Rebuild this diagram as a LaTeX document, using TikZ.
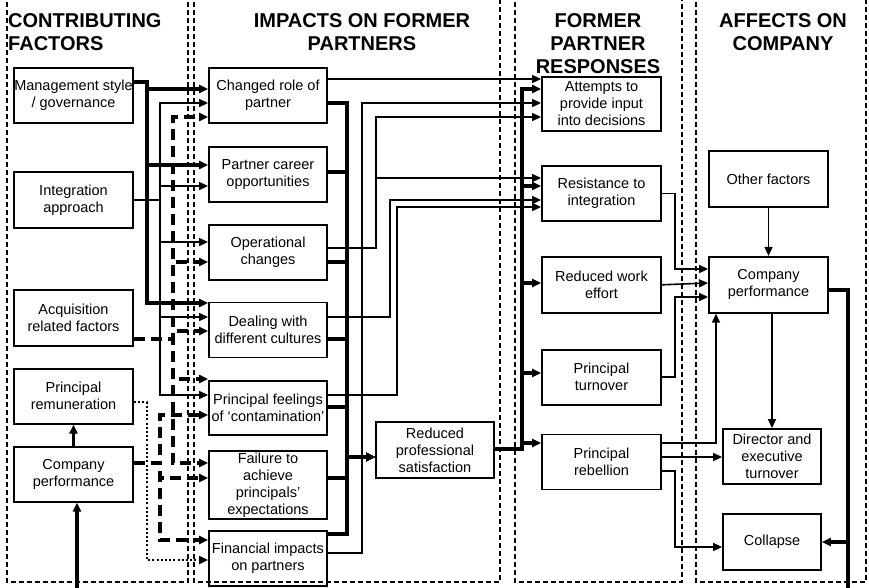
\documentclass[tikz,border=0pt]{standalone}
\usepackage{fontspec}
\setmainfont{Liberation Sans}
\usetikzlibrary{positioning, arrows.meta}

\begin{document}
\begin{tikzpicture}[
    x=1pt, y=-1pt,
    box/.style={rectangle, draw, line width=1.8pt, minimum width=119pt, minimum height=55pt, inner xsep=0pt, inner ysep=1pt, align=center, font=\fontsize{14.5}{17}\selectfont},
    impact/.style={box, minimum width=118pt},
    hdr/.style={align=center, inner sep=0pt, font=\bfseries\fontsize{20}{23}\selectfont},
    colframe/.style={draw, line width=1.4pt, dash pattern=on 5pt off 3pt},
    thn/.style={line width=1.6pt},
    thk/.style={line width=3.2pt},
    dsh/.style={line width=3.2pt, dash pattern=on 11pt off 6pt},
    dts/.style={line width=2pt, dash pattern=on 2pt off 2.2pt},
    arr/.style={-{Triangle[length=9pt, width=8pt]}}
]
\path[fill=white, use as bounding box] (0,0) rectangle (869,587);

% column frames
\draw[colframe] (7,-6) rectangle (188,582);
\draw[colframe] (194,-6) rectangle (500,582);
\draw[colframe] (515,-6) rectangle (682,582);
\draw[colframe] (696,-6) rectangle (866,582);

\node[hdr, anchor=north west, align=left] (hcontrib) at (8,13) {CONTRIBUTING\\FACTORS};
\node[hdr, anchor=north] (himpact) at (362,13) {IMPACTS ON FORMER\\PARTNERS};
\node[hdr, anchor=north] (hresp) at (598,13) {FORMER\\PARTNER\\RESPONSES};
\node[hdr, anchor=north] (hcomp) at (783,13) {AFFECTS ON\\COMPANY};

% contributing factors
\node[box] (mgmt) at (73.5,95.5) {Management style\\/ governance};
\node[box, minimum height=56pt] (integ) at (73.5,200) {Integration\\approach};
\node[box, minimum height=56pt] (acq) at (73.5,318) {Acquisition\\related factors};
\node[box, below=21pt of acq] (remun) {Principal\\remuneration};
\node[box, below=21pt of remun] (cperf1) {Company\\performance};

% impacts on former partners
\node[impact] (role) at (268,95.5) {Changed role of\\partner};
\node[impact, below=22pt of role] (career) {Partner career\\opportunities};
\node[impact, below=21pt of career] (oper) {Operational\\changes};
\node[impact, below=21pt of oper] (cult) {Dealing with\\different cultures};
\node[impact, minimum height=54pt, below=22pt of cult] (contam) {Principal feelings\\of ‘contamination’};
\node[impact, minimum height=68pt, inner ysep=0pt, below=14pt of contam] (fail) {Failure to\\achieve\\principals’\\expectations};
\node[impact, below=10pt of fail] (fin) {Financial impacts\\on partners};
\node[box, minimum width=118pt, minimum height=56pt] (sat) at (435,450) {Reduced\\professional\\satisfaction};

% former partner responses
\node[box, minimum height=54pt] (attempts) at (601.5,104) {Attempts to\\provide input\\into decisions};
\node[box] (resist) at (601.5,193.5) {Resistance to\\integration};
\node[box, minimum height=56pt, below=34pt of resist] (effort) {Reduced work\\effort};
\node[box, below=35pt of effort] (turnover) {Principal\\turnover};
\node[box, below=28pt of turnover] (rebellion) {Principal\\rebellion};

% affects on company
\node[box, minimum height=56pt] (other) at (768.5,179) {Other factors};
\node[box, minimum height=56pt, below=48pt of other] (cperf2) {Company\\performance};
\node[box, minimum width=98pt] (director) at (772,456.5) {Director and\\executive\\turnover};
\node[box, minimum width=98pt, minimum height=56pt, below=28pt of director] (collapse) {Collapse};

% contributing factors -> impacts
\draw[thk, arr] (mgmt.east |- 0,82) -| (147,89) -- (role.west |- 0,89);
\draw[thk, arr] (mgmt.east |- 0,82) -| (147,165) -- (career.west |- 0,165);
\draw[thk, arr] (mgmt.east |- 0,82) -| (147,303) -- (cult.west |- 0,303);

\draw[thn, arr] (integ.east) -| (160,103) -- (role.west |- 0,103);
\draw[thn, arr] (integ.east) -| (160,186) -- (career.west |- 0,186);
\draw[thn, arr] (integ.east) -| (160,242) -- (oper.west |- 0,242);
\draw[thn, arr] (integ.east) -| (160,317) -- (cult.west |- 0,317);
\draw[thn, arr] (integ.east) -| (160,395) -- (contam.west |- 0,395);

\draw[dsh, arr] (acq.east |- 0,339) -| (173,117) -- (role.west |- 0,117);
\draw[dsh, arr] (acq.east |- 0,339) -| (173,262) -- (oper.west |- 0,262);
\draw[dsh, arr] (acq.east |- 0,339) -| (173,331) -- (cult.west |- 0,331);
\draw[dsh, arr] (acq.east |- 0,339) -| (173,379) -- (contam.west |- 0,379);
\draw[dsh, arr] (acq.east |- 0,339) -| (173,463) -- (fail.west |- 0,463);

\draw[dsh, arr] (cperf1.east |- 0,463) -| (160,415) -- (contam.west |- 0,415);
\draw[dsh, arr] (cperf1.east |- 0,463) -| (160,478) -- (fail.west |- 0,478);
\draw[dsh, arr] (cperf1.east |- 0,463) -| (160,540) -- (fin.west |- 0,540);

\draw[dts, arr] (remun.east |- 0,402) -| (147,560) -- (fin.west |- 0,560);
\draw[line width=2.4pt, arr] (cperf1.north) -- (remun.south);

% impacts -> responses
\draw[thk, arr] (role.east |- 0,103) -| (347,457) -- (sat.west |- 0,457);
\draw[thk, arr] (career.east |- 0,172) -| (347,457) -- (sat.west |- 0,457);
\draw[thk, arr] (oper.east |- 0,262) -| (347,457) -- (sat.west |- 0,457);
\draw[thk, arr] (cult.east |- 0,339) -| (347,457) -- (sat.west |- 0,457);
\draw[thk, arr] (contam.east |- 0,407) -| (347,457) -- (sat.west |- 0,457);
\draw[thk, arr] (fail.east |- 0,478) -| (347,457) -- (sat.west |- 0,457);
\draw[thk, arr] (fin.east |- 0,534) -| (347,457) -- (sat.west |- 0,457);

\draw[thn, arr] (role.east |- 0,79) -- (attempts.west |- 0,79);
\draw[thn, arr] (fin.east |- 0,553) -| (362,103) -- (attempts.west |- 0,103);
\draw[thn, arr] (oper.east |- 0,248) -| (376,117) -- (attempts.west |- 0,117);
\draw[thn, arr] (oper.east |- 0,248) -| (376,178) -- (resist.west |- 0,178);
\draw[thn, arr] (cult.east |- 0,317) -| (390,200) -- (resist.west |- 0,200);
\draw[thn, arr] (contam.east |- 0,395) -| (397,207) -- (resist.west |- 0,207);

\draw[thk, arr] (sat.east |- 0,449) -| (522,89) -- (attempts.west |- 0,89);
\draw[thk, arr] (sat.east |- 0,449) -| (522,186) -- (resist.west |- 0,186);
\draw[thk, arr] (sat.east |- 0,449) -| (522,283) -- (effort.west |- 0,283);
\draw[thk, arr] (sat.east |- 0,449) -| (522,373) -- (turnover.west |- 0,373);
\draw[thk, arr] (sat.east |- 0,449) -| (522,443) -- (rebellion.west |- 0,443);

% responses -> company
\draw[thn, arr] (resist.east) -| (675,269) -- (cperf2.west |- 0,269);
\draw[thn, arr] (effort.east) -- (cperf2.west |- 0,283);
\draw[thn, arr] (turnover.east) -| (675,297) -- (cperf2.west |- 0,297);
\draw[thn, arr] (rebellion.east |- 0,443) -| (cperf2.south -| 716,0);
\draw[thn, arr] (rebellion.east |- 0,457) -- (director.west |- 0,457);
\draw[thn, arr] (rebellion.east |- 0,471) -| (675,547) -- (collapse.west |- 0,547);
\draw[thn, arr] (other.south) -- (cperf2.north);
\draw[thn, arr] (cperf2.south -| director.north) -- (director.north);
\draw[thk, arr] (cperf2.east |- 0,290) -| (848,542) -- (collapse.east |- 0,542);
\draw[thk, arr] (cperf2.east |- 0,290) -| (848,605) -| (cperf1.south -| 77,0);
\end{tikzpicture}
\end{document}
